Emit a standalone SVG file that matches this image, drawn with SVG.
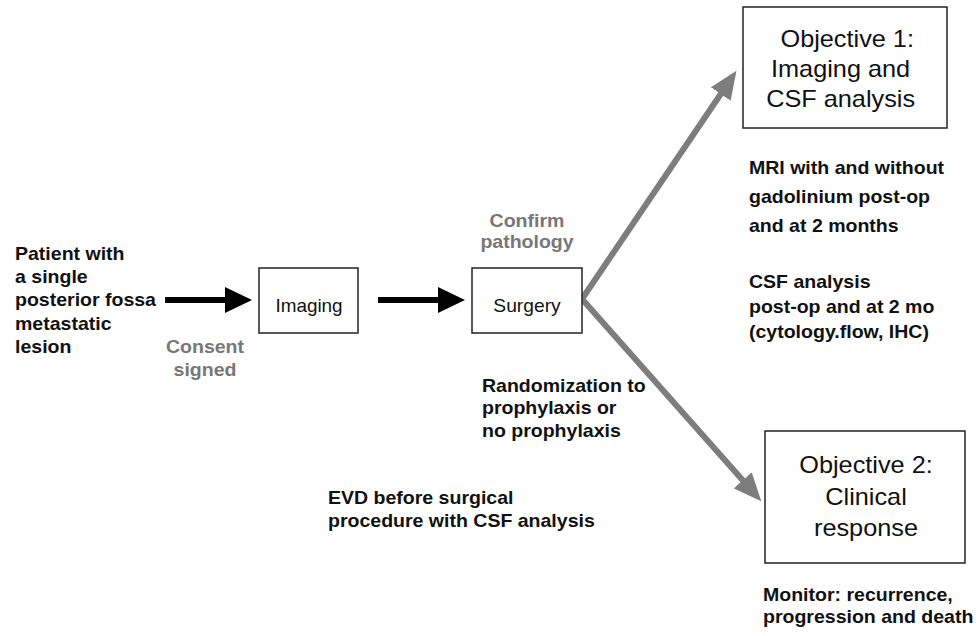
<svg xmlns="http://www.w3.org/2000/svg" width="979" height="636" viewBox="0 0 979 636">
<style>
.box{fill:#fff;stroke:#222;stroke-width:1.5}
.b{font-family:"Liberation Sans",Arial,sans-serif;font-weight:bold;font-size:18px;fill:#111}
.g{font-family:"Liberation Sans",Arial,sans-serif;font-weight:bold;font-size:18px;fill:#777}
.n{font-family:"Liberation Sans",Arial,sans-serif;font-size:17.5px;fill:#111}
.o{font-family:"Liberation Sans",Arial,sans-serif;font-size:23px;fill:#111}
.m{text-anchor:middle}
.blk{stroke:#000;stroke-width:6;fill:none}
.gry{stroke:#7d7d7d;stroke-width:6;fill:none}
</style>
<defs>
<marker id="ah" markerUnits="userSpaceOnUse" markerWidth="27" markerHeight="26" refX="1" refY="13" orient="auto" viewBox="0 0 27 26"><path d="M0,0 L27,13 L0,26 Z" fill="#000"/></marker>
<marker id="ag" markerUnits="userSpaceOnUse" markerWidth="28" markerHeight="24" refX="1" refY="12" orient="auto" viewBox="0 0 28 24"><path d="M0,0 L28,12 L0,24 Z" fill="#7d7d7d"/></marker>
</defs>
<rect width="979" height="636" fill="#fff"/>
<g id="connectors">
<line class="blk" x1="165" y1="300" x2="226" y2="300" marker-end="url(#ah)"/>
<line class="blk" x1="378" y1="300" x2="439" y2="300" marker-end="url(#ah)"/>
<line class="gry" x1="582" y1="299" x2="721.3" y2="93.2" marker-end="url(#ag)"/>
<line class="gry" x1="582" y1="299" x2="743.4" y2="481.1" marker-end="url(#ag)"/>
</g>
<g id="patient">
<g transform="translate(15,0) scale(1.085,1)">
<text class="b" x="0" y="260">Patient with</text>
<text class="b" x="0" y="283">a single</text>
<text class="b" x="0" y="306">posterior fossa</text>
<text class="b" x="0" y="330">metastatic</text>
<text class="b" x="0" y="353">lesion</text>
</g>
</g>
<g id="consent">
<g transform="translate(205,0) scale(1.085,1)">
<text class="g m" x="0" y="353">Consent</text>
<text class="g m" x="0" y="376">signed</text>
</g>
</g>
<g id="imaging">
<rect class="box" x="259" y="268" width="99" height="65"/>
<g transform="translate(309,0) scale(1.08,1)"><text class="n m" x="0" y="312">Imaging</text></g>
</g>
<g id="confirm">
<g transform="translate(527,0) scale(1.085,1)">
<text class="g m" x="0" y="227">Confirm</text>
<text class="g m" x="0" y="248">pathology</text>
</g>
</g>
<g id="surgery">
<rect class="box" x="472" y="268" width="110" height="65"/>
<g transform="translate(527,0) scale(1.1,1)"><text class="n m" x="0" y="312">Surgery</text></g>
</g>
<g id="randomization">
<g transform="translate(482,0) scale(1.085,1)">
<text class="b" x="0" y="392">Randomization to</text>
<text class="b" x="0" y="414">prophylaxis or</text>
<text class="b" x="0" y="437">no prophylaxis</text>
</g>
</g>
<g id="evd">
<g transform="translate(328,0) scale(1.085,1)">
<text class="b" x="0" y="504">EVD before surgical</text>
<text class="b" x="0" y="527">procedure with CSF analysis</text>
</g>
</g>
<g id="objective1">
<rect class="box" x="743" y="7" width="204" height="121"/>
<g transform="translate(845,0) scale(1.1,1)">
<text class="o m" x="2" y="47">Objective 1:</text>
<text class="o m" x="-4" y="77">Imaging and</text>
<text class="o m" x="-4" y="107">CSF analysis</text>
</g>
</g>
<g id="mri">
<g transform="translate(749,0) scale(1.085,1)">
<text class="b" x="0" y="174">MRI with and without</text>
<text class="b" x="0" y="203">gadolinium post-op</text>
<text class="b" x="0" y="232">and at 2 months</text>
<text class="b" x="0" y="288">CSF analysis</text>
<text class="b" x="0" y="313">post-op and at 2 mo</text>
<text class="b" x="0" y="338">(cytology.flow, IHC)</text>
</g>
</g>
<g id="objective2">
<rect class="box" x="765" y="431" width="200" height="132"/>
<g transform="translate(866,0) scale(1.1,1)">
<text class="o m" x="0" y="473">Objective 2:</text>
<text class="o m" x="0" y="505">Clinical</text>
<text class="o m" x="0" y="536">response</text>
</g>
</g>
<g id="monitor">
<g transform="translate(763,0) scale(1.085,1)">
<text class="b" x="0" y="601">Monitor: recurrence,</text>
<text class="b" x="0" y="623">progression and death</text>
</g>
</g>
</svg>
